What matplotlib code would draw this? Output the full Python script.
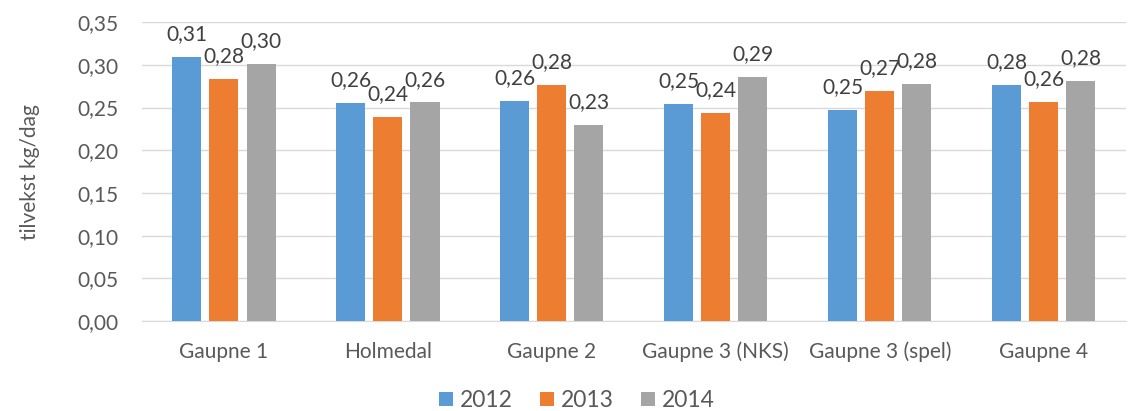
import numpy as np
import matplotlib.pyplot as plt

categories = ["Gaupne 1", "Holmedal", "Gaupne 2", "Gaupne 3 (NKS)", "Gaupne 3 (spel)", "Gaupne 4"]
years = ["2012", "2013", "2014"]
v2012 = [0.309, 0.255, 0.258, 0.254, 0.247, 0.277]
v2013 = [0.284, 0.239, 0.277, 0.244, 0.269, 0.257]
v2014 = [0.301, 0.256, 0.230, 0.286, 0.278, 0.281]
colors = ["#5B9BD5", "#ED7D31", "#A5A5A5"]

plt.rcParams["font.family"] = ["Lato", "DejaVu Sans"]
txt = "#595959"
fs = 15

fig = plt.figure(figsize=(11.36, 4.11), dpi=100)
ax = fig.add_axes([0.125, 0.219, 0.866, 0.727])

x = np.arange(len(categories))
width = 0.177
step = 0.226
for i, (vals, year) in enumerate(zip([v2012, v2013, v2014], years)):
    pos = x + (i - 1) * step
    ax.bar(pos, vals, width, color=colors[i], label=year, zorder=3)
    for p, v in zip(pos, vals):
        ax.text(p, v + 0.015, f"{v:.2f}".replace(".", ","), ha="center", va="bottom",
                fontsize=fs, color="#404040", zorder=4)

ax.set_xlim(-0.5, 5.5)
ax.set_ylim(0, 0.35)
ticks = np.arange(0, 0.351, 0.05)
ax.set_yticks(ticks)
ax.set_yticklabels([f"{t:.2f}".replace(".", ",") for t in ticks])
ax.set_xticks(x)
ax.set_xticklabels(categories)
ax.tick_params(axis="both", length=0, labelsize=fs, colors=txt)
ax.tick_params(axis="x", pad=15)
ax.tick_params(axis="y", pad=17)
ax.grid(axis="y", color="#D9D9D9", linewidth=1, zorder=0)
for s in ["top", "right", "left"]:
    ax.spines[s].set_visible(False)
ax.spines["bottom"].set_color("#D9D9D9")
ax.set_ylabel("tilvekst kg/dag", fontsize=fs, color=txt, labelpad=27)

fig.legend(loc="lower center", ncol=3, frameon=False, fontsize=16.5, labelcolor=txt,
           bbox_to_anchor=(0.508, -0.05), handlelength=0.6, handleheight=0.6,
           handletextpad=0.3, columnspacing=1.2)

fig.savefig("out.png", dpi=100)
